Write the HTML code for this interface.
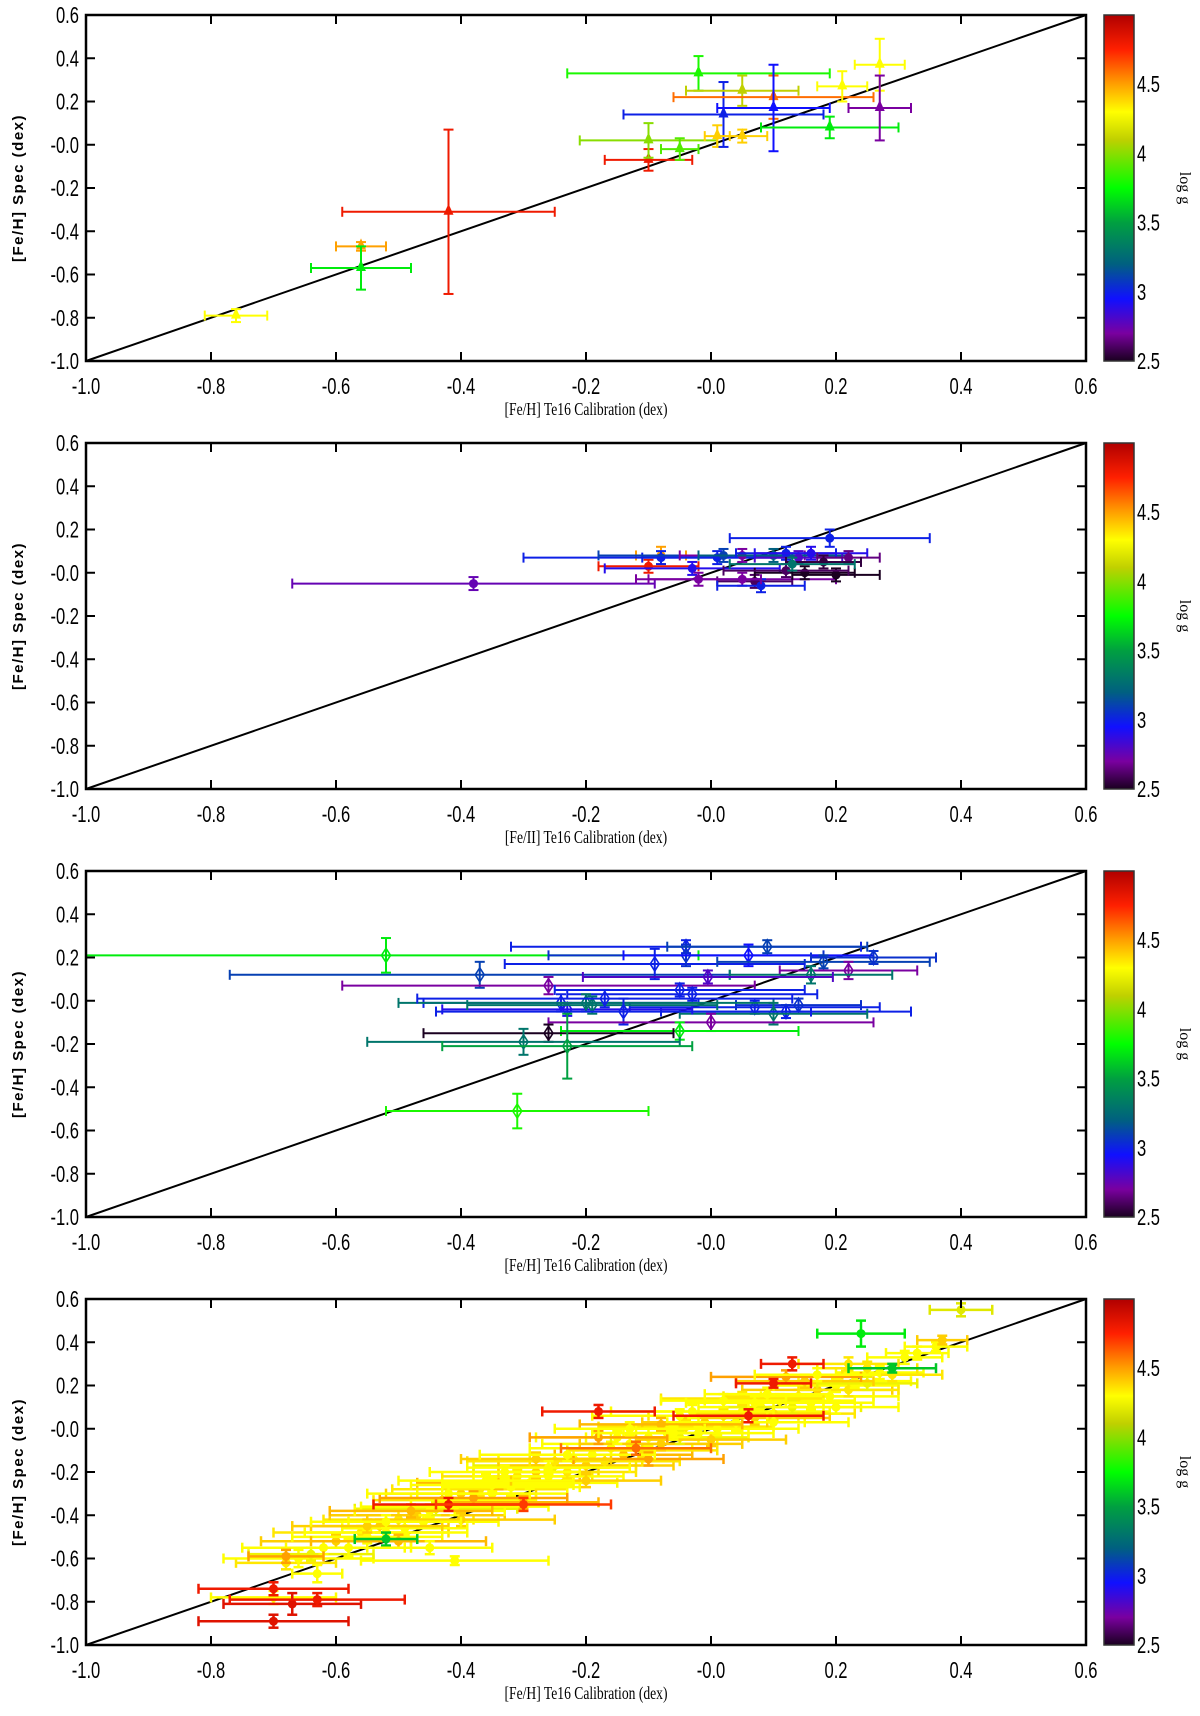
<!DOCTYPE html>
<html><head><meta charset="utf-8"><style>
body{margin:0;background:#fff;width:1200px;height:1716px;overflow:hidden}
svg{display:block}
.tk{font-family:"Liberation Sans",sans-serif;font-size:23px;fill:#000}
.ttl{font-family:"Liberation Serif",serif;font-size:16px;fill:#000}
.yt{font-family:"Liberation Sans",sans-serif;font-size:15px;fill:#000;letter-spacing:1.5px;font-weight:bold}
</style></head><body>
<svg id="fig" width="1200" height="1716" xmlns="http://www.w3.org/2000/svg"></svg>
<script>
// ===== data =====
const xTicks=[-1.0,-0.8,-0.6,-0.4,-0.2,0.0,0.2,0.4,0.6];
const yTicks=[-1.0,-0.8,-0.6,-0.4,-0.2,0.0,0.2,0.4,0.6];
const xTickLabels=["-1.0","-0.8","-0.6","-0.4","-0.2","-0.0","0.2","0.4","0.6"];
const yTickLabels=["-1.0","-0.8","-0.6","-0.4","-0.2","-0.0","0.2","0.4","0.6"];
const cbTicks=[2.5,3,3.5,4,4.5];
const cbTickLabels=["2.5","3","3.5","4","4.5"];
const xTitles=["[Fe/H] Te16 Calibration (dex)","[Fe/II] Te16 Calibration (dex)","[Fe/H] Te16 Calibration (dex)","[Fe/H] Te16 Calibration (dex)"];
const markers=["tri","circ","diam","circ"];
// panel 1
const p1x=[-0.76,-0.56,-0.56,-0.42,-0.10,-0.10,-0.05,-0.02,0.01,0.02,0.05,0.05,0.10,0.10,0.19,0.21,0.27,0.27];
const p1y=[-0.79,-0.47,-0.57,-0.31,-0.07,0.02,-0.02,0.33,0.04,0.14,0.25,0.04,0.22,0.17,0.08,0.27,0.37,0.17];
const p1xe=[0.05,0.04,0.08,0.17,0.07,0.11,0.03,0.21,0.02,0.16,0.09,0.04,0.16,0.09,0.11,0.04,0.04,0.05];
const p1ye=[0.03,0.02,0.10,0.38,0.05,0.08,0.05,0.08,0.05,0.15,0.07,0.03,0.10,0.20,0.05,0.07,0.12,0.15];
const p1g=[4.3,4.5,3.7,4.8,4.8,4.0,3.9,3.8,4.4,3.0,4.1,4.4,4.6,2.95,3.7,4.3,4.3,2.7];
// panel 2
const p2x=[-0.38,-0.10,-0.08,-0.08,-0.03,0.01,0.02,0.05,0.10,0.12,0.14,0.19,0.16,0.22,0.18,0.07,0.05,0.08,0.15,0.20,0.12,-0.02,0.13];
const p2y=[-0.05,0.03,0.08,0.07,0.02,0.07,0.08,0.08,0.08,0.09,0.07,0.16,0.09,0.07,0.05,-0.04,-0.03,-0.06,0.00,-0.01,0.01,-0.03,0.04];
const p2xe=[0.29,0.08,0.04,0.22,0.14,0.12,0.20,0.10,0.12,0.08,0.07,0.16,0.09,0.05,0.06,0.06,0.15,0.07,0.08,0.07,0.10,0.10,0.10];
const p2ye=[0.03,0.03,0.04,0.03,0.03,0.03,0.03,0.03,0.03,0.03,0.03,0.04,0.03,0.03,0.03,0.03,0.03,0.03,0.03,0.03,0.03,0.03,0.03];
const p2g=[2.75,4.8,4.5,3.0,2.9,3.0,3.1,2.7,3.2,3.0,2.8,3.0,2.9,2.65,2.55,2.6,2.7,3.0,2.5,2.5,2.6,2.7,3.3];
// panel 3
const p3x=[-0.52,-0.37,-0.26,-0.09,-0.04,-0.04,0.09,0.06,0.18,0.26,0.22,0.16,-0.005,-0.05,-0.03,0.07,0.12,0.14,0.10,-0.24,-0.23,-0.20,-0.19,-0.17,-0.14,0.00,-0.05,-0.26,-0.30,-0.23,-0.31];
const p3y=[0.21,0.12,0.07,0.17,0.25,0.21,0.25,0.21,0.18,0.20,0.14,0.12,0.11,0.05,0.03,-0.03,-0.05,-0.02,-0.06,-0.01,-0.04,-0.01,-0.02,0.01,-0.05,-0.10,-0.14,-0.15,-0.19,-0.21,-0.51];
const p3xe=[0.50,0.40,0.33,0.24,0.28,0.22,0.16,0.20,0.17,0.10,0.11,0.13,0.20,0.20,0.20,0.20,0.20,0.10,0.15,0.22,0.20,0.30,0.20,0.30,0.30,0.26,0.19,0.20,0.25,0.20,0.21];
const p3ye=[0.08,0.06,0.04,0.07,0.03,0.05,0.03,0.05,0.03,0.03,0.04,0.04,0.03,0.03,0.03,0.03,0.03,0.03,0.05,0.04,0.03,0.04,0.04,0.04,0.06,0.04,0.04,0.04,0.06,0.15,0.08];
const p3g=[3.7,3.1,2.7,3.0,3.0,3.05,3.1,2.95,3.1,3.05,2.7,3.3,2.8,3.0,3.0,3.0,3.0,3.05,3.3,3.0,2.9,3.3,3.3,3.0,3.0,2.7,3.7,2.5,3.3,3.5,3.8];
// panel 4
const p4x=[-0.70,-0.68,-0.66,-0.64,-0.62,-0.60,-0.58,-0.56,-0.55,-0.53,-0.52,-0.50,-0.49,-0.47,-0.46,-0.44,-0.43,-0.41,-0.40,-0.38,-0.37,-0.35,-0.34,-0.32,-0.31,-0.29,-0.28,-0.26,-0.25,-0.23,-0.22,-0.20,-0.19,-0.17,-0.16,-0.14,-0.13,-0.11,-0.10,-0.08,-0.07,-0.05,-0.04,-0.02,-0.01,0.01,0.02,0.04,0.05,0.07,0.08,0.10,0.11,0.13,0.14,0.16,0.17,0.19,0.20,0.22,0.23,0.25,0.27,0.29,0.31,0.33,0.36,
 -0.55,-0.50,-0.45,-0.40,-0.35,-0.30,-0.25,-0.20,-0.15,-0.10,-0.05,0.00,0.05,0.10,0.15,0.20,0.25,-0.48,-0.38,-0.28,-0.18,-0.08,0.02,0.12,0.22,
 -0.42,-0.33,-0.23,-0.13,-0.03,0.07,0.17,-0.52,-0.36,-0.26,-0.06,0.09,
 0.40,0.24,0.29,-0.70,-0.67,-0.63,-0.70,-0.41,-0.68,-0.63,-0.18,-0.42,-0.52,0.10,0.13,0.37,-0.45,-0.30,-0.12,0.06];
const p4y=[-0.78,-0.62,-0.60,-0.58,-0.55,-0.52,-0.55,-0.48,-0.50,-0.45,-0.48,-0.42,-0.46,-0.40,-0.43,-0.37,-0.33,-0.36,-0.30,-0.33,-0.28,-0.30,-0.25,-0.27,-0.22,-0.25,-0.20,-0.22,-0.17,-0.20,-0.14,-0.17,-0.12,-0.15,-0.09,-0.12,-0.07,-0.10,-0.04,-0.07,-0.02,-0.04,0.01,-0.02,0.03,0.00,0.06,0.03,0.08,0.05,0.10,0.07,0.13,0.10,0.15,0.12,0.18,0.15,0.20,0.18,0.22,0.21,0.26,0.25,0.33,0.35,0.38,
 -0.45,-0.52,-0.38,-0.42,-0.26,-0.34,-0.15,-0.24,-0.04,-0.14,0.06,-0.05,0.14,0.03,0.22,0.10,0.28,-0.38,-0.32,-0.14,-0.04,0.02,0.13,0.24,0.30,
 -0.30,-0.20,-0.12,0.00,0.08,0.12,0.25,-0.43,-0.24,-0.18,-0.02,0.16,
 0.55,0.44,0.28,-0.74,-0.81,-0.79,-0.89,-0.61,-0.59,-0.67,0.08,-0.35,-0.51,0.21,0.30,0.41,-0.55,-0.35,-0.09,0.06];
const p4xe=[0.10,0.08,0.12,0.10,0.13,0.12,0.10,0.14,0.12,0.11,0.13,0.12,0.10,0.14,0.12,0.13,0.11,0.15,0.12,0.10,0.14,0.12,0.13,0.11,0.12,0.14,0.10,0.12,0.13,0.11,0.12,0.14,0.10,0.12,0.13,0.11,0.14,0.12,0.10,0.13,0.12,0.11,0.14,0.12,0.10,0.13,0.12,0.11,0.14,0.12,0.10,0.13,0.12,0.11,0.12,0.10,0.12,0.11,0.10,0.08,0.09,0.08,0.07,0.08,0.06,0.05,0.05,
 0.12,0.14,0.12,0.15,0.13,0.12,0.14,0.12,0.13,0.12,0.14,0.12,0.13,0.12,0.11,0.10,0.08,0.13,0.15,0.12,0.11,0.13,0.10,0.12,0.08,
 0.13,0.12,0.14,0.12,0.13,0.11,0.10,0.12,0.14,0.13,0.12,0.10,
 0.05,0.07,0.07,0.12,0.11,0.14,0.12,0.15,0.06,0.04,0.09,0.12,0.05,0.06,0.05,0.04,0.10,0.14,0.12,0.12];
const p4ye=[0.03,0.03,0.04,0.03,0.03,0.03,0.04,0.03,0.03,0.03,0.03,0.04,0.03,0.03,0.03,0.03,0.03,0.04,0.03,0.03,0.03,0.03,0.03,0.04,0.03,0.03,0.03,0.03,0.03,0.03,0.04,0.03,0.03,0.03,0.03,0.03,0.03,0.03,0.04,0.03,0.03,0.03,0.03,0.03,0.03,0.03,0.03,0.04,0.03,0.03,0.03,0.03,0.03,0.03,0.03,0.03,0.03,0.03,0.03,0.03,0.03,0.03,0.03,0.03,0.03,0.03,0.02,
 0.03,0.03,0.03,0.03,0.03,0.03,0.03,0.03,0.03,0.03,0.03,0.03,0.03,0.03,0.03,0.03,0.03,0.03,0.03,0.03,0.03,0.03,0.03,0.03,0.03,
 0.03,0.03,0.03,0.03,0.03,0.03,0.03,0.03,0.03,0.03,0.03,0.03,
 0.03,0.06,0.02,0.03,0.05,0.03,0.03,0.02,0.03,0.04,0.03,0.03,0.03,0.02,0.03,0.02,0.03,0.03,0.03,0.03];
const p4g=[4.3,4.35,4.3,4.25,4.3,4.4,4.3,4.35,4.3,4.4,4.3,4.35,4.3,4.4,4.3,4.25,4.35,4.3,4.4,4.3,4.35,4.3,4.45,4.3,4.35,4.3,4.4,4.3,4.25,4.35,4.3,4.4,4.3,4.35,4.3,4.45,4.3,4.35,4.3,4.4,4.3,4.25,4.35,4.3,4.4,4.3,4.35,4.3,4.3,4.4,4.3,4.35,4.3,4.25,4.35,4.3,4.4,4.3,4.3,4.35,4.3,4.25,4.3,4.35,4.3,4.3,4.3,
 4.4,4.45,4.3,4.4,4.3,4.45,4.35,4.4,4.3,4.5,4.3,4.4,4.35,4.3,4.4,4.3,4.35,4.45,4.5,4.4,4.5,4.45,4.3,4.5,4.35,
 4.3,4.3,4.3,4.3,4.3,4.3,4.3,4.3,4.3,4.3,4.3,4.3,
 4.2,3.7,3.6,4.8,4.85,4.8,4.85,4.3,4.5,4.3,4.8,4.8,3.6,4.8,4.8,4.4,4.3,4.7,4.6,4.8];
const panels=[[p1x,p1y,p1xe,p1ye,p1g],[p2x,p2y,p2xe,p2ye,p2g],[p3x,p3y,p3xe,p3ye,p3g],[p4x,p4y,p4xe,p4ye,p4g]];
// ===== drawing =====
const NS="http://www.w3.org/2000/svg";
const svg=document.getElementById('fig');
const L=86,R=1086,H=346,CBX=1104,CBW=30;
const stops=[[2.5,[26,0,32]],[2.7,[122,0,160]],[2.95,[16,16,255]],[3.2,[0,96,128]],[3.5,[0,160,64]],[3.75,[0,255,0]],[4.1,[192,208,0]],[4.3,[255,255,0]],[4.5,[255,160,0]],[4.75,[255,32,0]],[5.0,[176,0,0]]];
function cmap(g){
  if(g<=stops[0][0])return 'rgb('+stops[0][1]+')';
  for(let i=1;i<stops.length;i++){if(g<=stops[i][0]){const a=stops[i-1],b=stops[i],t=(g-a[0])/(b[0]-a[0]);
    return 'rgb('+a[1].map((v,k)=>Math.round(v+(b[1][k]-v)*t)).join(',')+')';}}
  return 'rgb('+stops[stops.length-1][1]+')';
}
function mk(tag,at,parent){const e=document.createElementNS(NS,tag);for(const k in at)e.setAttribute(k,at[k]);(parent||svg).appendChild(e);return e;}
let defs=mk('defs',{});
const grad=mk('linearGradient',{id:'cbg',x1:0,y1:1,x2:0,y2:0},defs);
stops.forEach(s=>{mk('stop',{offset:((s[0]-2.5)/2.5),'stop-color':cmap(s[0])},grad);});
function tickText(g,x,y,anchor,str){
  const t=mk('text',{x:0,y:0,'text-anchor':anchor,class:'tk',transform:'translate('+x+','+y+') scale(0.72,1)'},g);
  t.textContent=str;return t;
}
for(let p=0;p<4;p++){
  const T=15+428*p,B=T+H;
  const sx=v=>L+(v+1)/1.6*(R-L);
  const sy=v=>B-(v+1)/1.6*H;
  const g=mk('g',{});
  
  
  const cp=mk('clipPath',{id:'clip'+p},defs);mk('rect',{x:L,y:T,width:R-L,height:H},cp);
  const line=mk('line',{x1:sx(-1),y1:sy(-1),x2:sx(0.6),y2:sy(0.6),stroke:'#000','stroke-width':2},g);
  
  
  const [X,Y,XE,YE,G]=panels[p];
  const pg=mk('g',{'clip-path':'url(#clip'+p+')'},g);
  
  
  for(let i=0;i<X.length;i++){
    const c=cmap(G[i]),cx=sx(X[i]),cy=sy(Y[i]);
    const x0=sx(X[i]-XE[i]),x1=sx(X[i]+XE[i]),y0=sy(Y[i]-YE[i]),y1=sy(Y[i]+YE[i]);
    const e=mk('g',{stroke:c,'stroke-width':p===3?2.5:2,fill:'none'},pg);
    
    
    mk('line',{x1:x0,y1:cy,x2:x1,y2:cy},e);
    mk('line',{x1:x0,y1:cy-5,x2:x0,y2:cy+5},e);
    mk('line',{x1:x1,y1:cy-5,x2:x1,y2:cy+5},e);
    mk('line',{x1:cx,y1:y0,x2:cx,y2:y1},e);
    mk('line',{x1:cx-5,y1:y0,x2:cx+5,y2:y0},e);
    mk('line',{x1:cx-5,y1:y1,x2:cx+5,y2:y1},e);
    const m=markers[p];
    if(m==='tri')mk('polygon',{points:(cx)+','+(cy-8)+' '+(cx-5)+','+(cy+3)+' '+(cx+5)+','+(cy+3),fill:c,stroke:'none'},e);
    else if(m==='circ')mk('circle',{cx:cx,cy:cy,r:4.5,fill:c,stroke:'none'},e);
    else mk('polygon',{points:cx+','+(cy-7)+' '+(cx+4.5)+','+cy+' '+cx+','+(cy+7)+' '+(cx-4.5)+','+cy,fill:'none','stroke-width':1.6},e);
  }
  const fr=mk('rect',{x:L,y:T,width:R-L,height:H,fill:'none',stroke:'#000','stroke-width':2.5},g);
  
  
  xTicks.forEach((v,i)=>{const x=sx(v);
    mk('line',{x1:x,y1:B,x2:x,y2:B-9,stroke:'#000','stroke-width':2},g);
    mk('line',{x1:x,y1:T,x2:x,y2:T+9,stroke:'#000','stroke-width':2},g);
    const t=tickText(g,x,B+33,'middle',xTickLabels[i]);
    
    
  });
  yTicks.forEach((v,i)=>{const y=sy(v);
    mk('line',{x1:L,y1:y,x2:L+9,y2:y,stroke:'#000','stroke-width':2},g);
    mk('line',{x1:R,y1:y,x2:R-9,y2:y,stroke:'#000','stroke-width':2},g);
    const t=tickText(g,79,y+8,'end',yTickLabels[i]);
    
    
  });
  const xt=mk('text',{x:0,y:0,'text-anchor':'middle',class:'ttl',transform:'translate(586,'+(B+54)+') scale(0.85,1.1)'},g);xt.textContent=xTitles[p];
  
  
  const yt=mk('text',{x:0,y:0,'text-anchor':'middle',class:'yt',transform:'translate(23,'+(T+H/2)+') rotate(-90)'},g);yt.textContent='[Fe/H]  Spec (dex)';
  
  
  const cb=mk('rect',{x:CBX,y:T,width:CBW,height:H,fill:'url(#cbg)',stroke:'#333','stroke-width':1.5},g);
  
  
  cbTicks.forEach((v,i)=>{const y=B-(v-2.5)/2.5*H;
    const t=tickText(g,CBX+CBW+3,i===0?B+8:y+8,'start',cbTickLabels[i]);
    
    
  });
  const ct=mk('text',{x:0,y:0,'text-anchor':'middle',class:'ttl',transform:'translate(1180,'+(T+H/2)+') rotate(90)'},g);ct.textContent='log g';
  
  
}
</script>
</body></html>
